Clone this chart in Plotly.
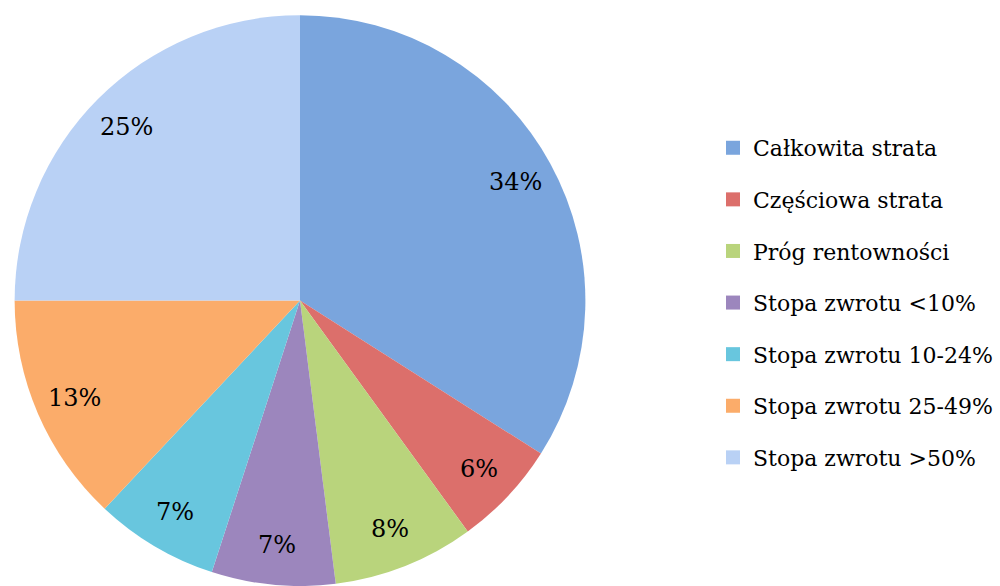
import math
import plotly.graph_objects as go

labels = ["Całkowita strata", "Częściowa strata", "Próg rentowności", "Stopa zwrotu <10%",
          "Stopa zwrotu 10-24%", "Stopa zwrotu 25-49%", "Stopa zwrotu >50%"]
values = [34, 6, 8, 7, 7, 13, 25]
colors = ["#7aa5dd", "#dc6f6b", "#b9d47c", "#9c86bd", "#68c6de", "#fbac6a", "#b9d1f5"]

FONT = "DejaVu Serif"
W, H = 1000, 586
DOM_X = [0.014, 0.586]
DOM_Y = [0.0, 0.974]
LABEL_R = 0.86  # label distance as fraction of radius

fig = go.Figure()
fig.add_trace(go.Pie(
    labels=labels, values=values, sort=False, direction="clockwise", rotation=0,
    marker=dict(colors=colors, line=dict(width=0)),
    textinfo="none",
    domain=dict(x=DOM_X, y=DOM_Y),
    showlegend=False, hoverinfo="label+percent",
))

# percentage labels placed along the slice bisectors (computed from the data)
cx = (DOM_X[0] + DOM_X[1]) / 2
cy = (DOM_Y[0] + DOM_Y[1]) / 2
radius_px = min((DOM_X[1] - DOM_X[0]) * W, (DOM_Y[1] - DOM_Y[0]) * H) / 2
total = sum(values)
cum = 0
annotations = []
for v in values:
    mid = (cum + v / 2) / total * 2 * math.pi
    cum += v
    ax = cx + LABEL_R * radius_px * math.sin(mid) / W
    ay = cy + LABEL_R * radius_px * math.cos(mid) / H
    annotations.append(dict(
        x=ax, y=ay, xref="paper", yref="paper", showarrow=False,
        text=f"{round(v / total * 100)}%", xanchor="center", yanchor="middle",
        font=dict(family=FONT, size=24, color="black"),
    ))

for i, (lab, col) in enumerate(zip(labels, colors)):
    fig.add_trace(go.Scatter(
        x=[None], y=[None], mode="markers", name=lab, legendgroup=str(i),
        marker=dict(symbol="square", size=14, color=col),
    ))

fig.update_layout(
    width=W, height=H,
    margin=dict(l=0, r=0, t=0, b=0, autoexpand=False),
    paper_bgcolor="white", plot_bgcolor="white",
    xaxis=dict(visible=False), yaxis=dict(visible=False),
    annotations=annotations,
    legend=dict(x=0.713, y=0.483, xanchor="left", yanchor="middle",
                font=dict(family=FONT, size=22, color="black"),
                tracegroupgap=20, itemwidth=30, bgcolor="rgba(0,0,0,0)"),
)

fig.write_html("out.html")
